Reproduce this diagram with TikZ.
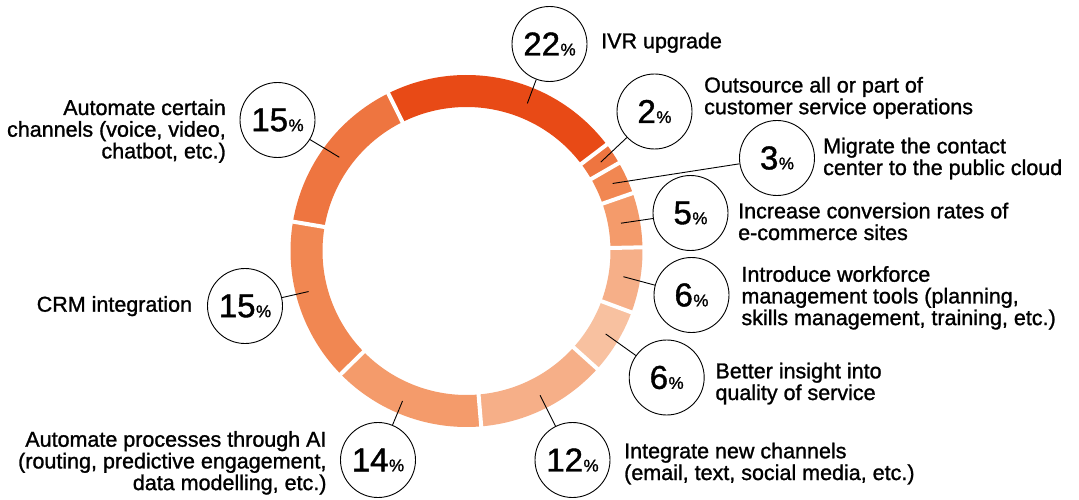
\documentclass[tikz,border=0pt]{standalone}
\usepackage{fontspec}
\setmainfont{Liberation Sans}[RawFeature={embolden=1.2}]
\definecolor{c22}{HTML}{E84A16}
\definecolor{cA}{HTML}{EE7540}
\definecolor{cB}{HTML}{F18752}
\definecolor{cC}{HTML}{F49B6B}
\definecolor{cD}{HTML}{F6AF88}
\definecolor{cE}{HTML}{F8C1A0}
\newcommand{\pc}[1]{#1\kern0.5pt{\fontsize{17}{17}\selectfont\%}}
\begin{document}
\begin{tikzpicture}[x=1pt,y=1pt,
  pct/.style={circle, draw=black, line width=0.9pt, fill=white, minimum size=75pt, inner sep=0pt, font=\fontsize{33}{33}\selectfont},
  lbl/.style={inner sep=0pt, font=\fontsize{21.5}{20.4}\selectfont},
  conn/.style={draw=black, line width=0.9pt}]
\useasboundingbox (0,0) rectangle (1079,499);
\fill[white] (0,0) rectangle (1079,499);
\coordinate (c) at (466.5,248);
\begin{scope}[shift={(c)}]
  \foreach \a/\b/\col in {116.4/37.2/c22, 37.2/30/cA, 30/19.2/cB, 19.2/1.2/cC, 1.2/-20.4/cD, -20.4/-42/cE, -42/-85.2/cD, -85.2/-135.6/cC, -135.6/-189.6/cB, -189.6/-243.6/cA}
    {\fill[\col] (\a:176) arc[start angle=\a, end angle=\b, radius=176] -- (\b:144) arc[start angle=\b, end angle=\a, radius=144] -- cycle;}
  \foreach \a in {116.4,37.2,30,19.2,1.2,-20.4,-42,-85.2,-135.6,-189.6}
    {\draw[white, line width=4pt] (\a:140) -- (\a:180);}
  \coordinate (p22) at (67.6:159.7);
  \coordinate (p2) at (33.5:161);
  \coordinate (p3) at (24.8:161);
  \coordinate (p5) at (10.2:157);
  \coordinate (p6w) at (-9.3:159);
  \coordinate (p6i) at (-30.8:162);
  \coordinate (p12) at (-63:162);
  \coordinate (p14) at (-113.1:163);
  \coordinate (pcrm) at (194.4:163);
  \coordinate (ptop) at (143.6:158);
\end{scope}
% circles
\node[pct] (n22) at (549.5,455) {\pc{22}};
\node[pct] (n2) at (654.5,387.5) {\pc{2}};
\node[pct] (n3) at (777,341) {\pc{3}};
\node[pct] (n5) at (690.5,286) {\pc{5}};
\node[pct] (n6w) at (691.5,204) {\pc{6}};
\node[pct] (n6i) at (666.7,121.5) {\pc{6}};
\node[pct] (n12) at (572.5,39) {\pc{12}};
\node[pct] (n14) at (378,39) {\pc{14}};
\node[pct] (ncrm) at (245,193) {\pc{15}};
\node[pct] (ntop) at (277.5,379) {\pc{15}};
% connectors
\draw[conn] (p22) -- (n22);
\draw[conn] (p2) -- (n2);
\draw[conn] (p3) -- (n3);
\draw[conn] (p5) -- (n5);
\draw[conn] (p6w) -- (n6w);
\draw[conn] (p6i) -- (n6i);
\draw[conn] (p12) -- (n12);
\draw[conn] (p14) -- (n14);
\draw[conn] (pcrm) -- (ncrm);
\draw[conn] (ptop) -- (ntop);
% labels
\node[lbl, anchor=base west] (l22) at (601,450.7) {IVR upgrade};
\node[lbl, anchor=base west] (l2) at (704,406.5) {\begin{tabular}[t]{@{}l@{}}Outsource all or part of\\customer service operations\end{tabular}};
\node[lbl, anchor=base west] (l3) at (823,345.7) {\begin{tabular}[t]{@{}l@{}}Migrate the contact\\center to the public cloud\end{tabular}};
\node[lbl, anchor=base west] (l5) at (738,280.7) {\begin{tabular}[t]{@{}l@{}}Increase conversion rates of\\e-commerce sites\end{tabular}};
\node[lbl, anchor=base west] (l6w) at (741.3,217.3) {\begin{tabular}[t]{@{}l@{}}Introduce workforce\\management tools (planning,\\skills management, training, etc.)\end{tabular}};
\node[lbl, anchor=base west] (l6i) at (715.3,120.7) {\begin{tabular}[t]{@{}l@{}}Better insight into\\quality of service\end{tabular}};
\node[lbl, anchor=base west] (l12) at (624,40.7) {\begin{tabular}[t]{@{}l@{}}Integrate new channels\\(email, text, social media, etc.)\end{tabular}};
\node[lbl, anchor=base east] (l14) at (326.7,52.3) {\begin{tabular}[t]{@{}r@{}}Automate processes through AI\\(routing, predictive engagement,\\data modelling, etc.)\end{tabular}};
\node[lbl, anchor=base east] (lcrm) at (192.3,187.3) {CRM integration};
\node[lbl, anchor=base east] (ltop) at (226,384) {\begin{tabular}[t]{@{}r@{}}Automate certain\\channels (voice, video,\\chatbot, etc.)\end{tabular}};
\end{tikzpicture}
\end{document}
